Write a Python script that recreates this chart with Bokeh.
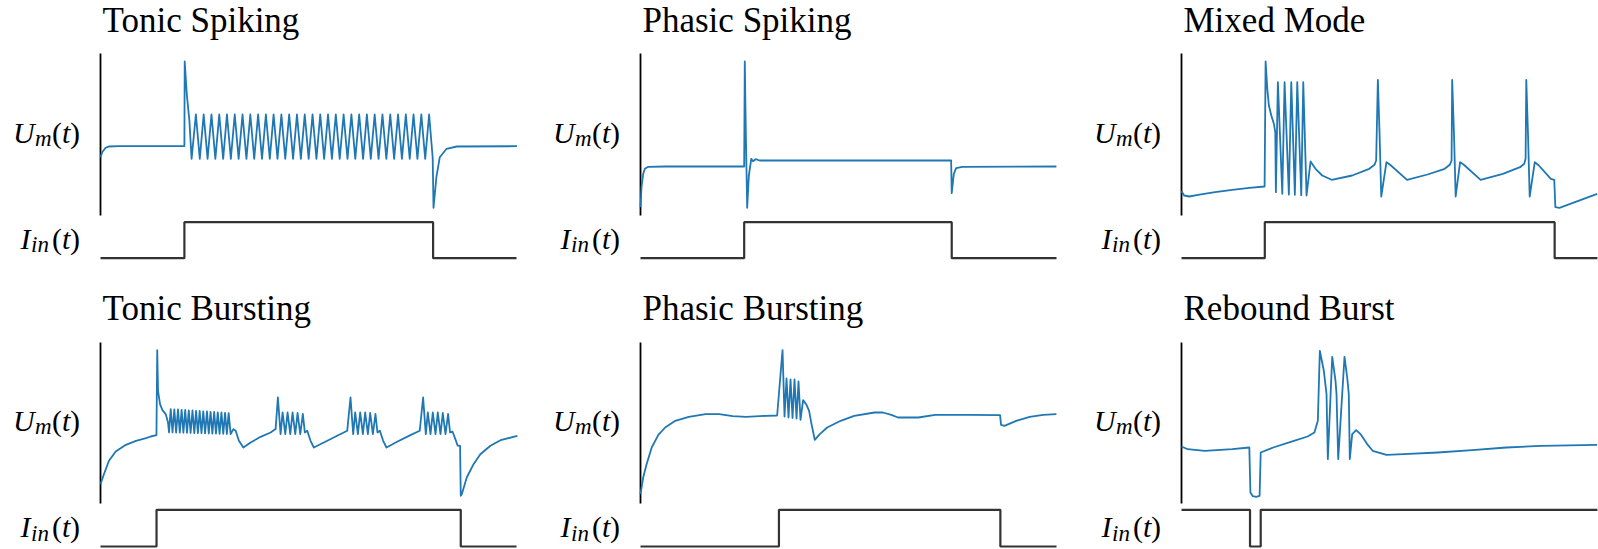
from bokeh.plotting import figure
from bokeh.layouts import column, row
from bokeh.models import Range1d, Label
from bokeh.embed import file_html
from bokeh.resources import INLINE

# ---------------- data (time in ms, membrane potential in a.u., input current in a.u.) ----------------
T_END = 416.5

titles = ["Tonic Spiking", "Phasic Spiking", "Mixed Mode",
          "Tonic Bursting", "Phasic Bursting", "Rebound Burst"]

# Tonic Spiking
tonic_spiking_t = [0, 1.7, 5.1, 8.5, 18.6, 84.0, 84.3, 86.5, 89.0, 91.2,
                   95.5, 99.4, 103.3, 107.2, 111.1, 115.0, 118.9, 122.8, 126.6, 130.5,
                   134.4, 138.3, 142.2, 146.1, 150.0, 153.9, 157.8, 161.7, 165.6, 169.5,
                   173.3, 177.2, 181.1, 185.0, 188.9, 192.8, 196.7, 200.6, 204.5, 208.4,
                   212.3, 216.2, 220.0, 223.9, 227.8, 231.7, 235.6, 239.5, 243.4, 247.3,
                   251.2, 255.1, 259.0, 262.9, 266.7, 270.6, 274.5, 278.4, 282.3, 286.2,
                   290.1, 294.0, 297.9, 301.8, 305.7, 309.6, 313.4, 317.3, 321.2, 325.1,
                   329.0, 332.6, 333.4, 336.3, 339.7, 346.5, 356.6, 417.0]
tonic_spiking_v = [58.3, 63.3, 67.7, 69.0, 69.3, 69.5, 154.0, 120.0, 95.0, 56.7,
                   101, 56.7, 101, 56.7, 101, 56.7, 101, 56.7, 101, 56.7,
                   101, 56.7, 101, 56.7, 101, 56.7, 101, 56.7, 101, 56.7,
                   101, 56.7, 101, 56.7, 101, 56.7, 101, 56.7, 101, 56.7,
                   101, 56.7, 101, 56.7, 101, 56.7, 101, 56.7, 101, 56.7,
                   101, 56.7, 101, 56.7, 101, 56.7, 101, 56.7, 101, 56.7,
                   101, 56.7, 101, 56.7, 101, 56.7, 101, 56.7, 101, 56.7,
                   101, 57.5, 7.7, 38.3, 58.3, 66.7, 69.0, 69.3]
tonic_spiking_iin_t = [0, 84.0, 333.0, T_END]
tonic_spiking_iin = [0, 1, 0, 0]

# Phasic Spiking
phasic_spiking_t = [0, 1.0, 2.7, 4.4, 7.8, 24.7, 103.8, 104.4, 105.5, 106.8, 108.5,
                    110.9, 112.6, 115.3, 119.3, 311.0, 311.6, 313.7, 316.0, 322.1, 416.4]
phasic_spiking_v = [8.3, 28.3, 41.7, 46.7, 48.7, 49.0, 49.0, 154.0, 80.0, 7.7, 40.0,
                    56.7, 54.3, 56.3, 55.0, 55.0, 22.3, 41.7, 47.3, 48.7, 49.0]
phasic_spiking_iin_t = [0, 103.8, 311.6, T_END]
phasic_spiking_iin = [0, 1, 0, 0]

# Mixed Mode
mixed_mode_t = [0, 2.7, 7.9, 16.5, 33.6, 50.8, 67.9, 83.2, 84.2, 85.9,
                87.5, 89.9, 92.5, 93.9, 94.5, 96.5, 100.9, 103.2, 107.5, 109.9,
                113.5, 115.9, 119.9, 121.9, 125.2, 129.2, 134.2, 140.9, 150.3, 170.9,
                188.0, 193.2, 194.9, 196.6, 198.3, 200.0, 205.2, 208.6, 225.8, 246.3,
                263.5, 268.6, 270.4, 271.0, 272.8, 274.5, 278.9, 282.4, 299.5, 321.8,
                339.0, 343.1, 344.5, 345.2, 346.9, 348.6, 353.7, 357.8, 369.8, 373.2,
                374.3, 378.4, 393.9, 416.2]
mixed_mode_v = [24.3, 20.0, 19.0, 20.7, 23.3, 25.7, 27.7, 29.0, 154.0, 126.7,
                110.0, 100.0, 91.7, 83.3, 23.3, 133.3, 21.7, 133.3, 21.0, 133.3,
                20.7, 133.3, 20.3, 133.3, 20.0, 54.0, 46.7, 40.0, 35.7, 40.0,
                46.7, 50.7, 55.0, 135.7, 81.7, 19.0, 53.3, 51.0, 35.7, 41.0,
                46.7, 50.7, 55.0, 135.7, 81.7, 19.0, 53.3, 51.0, 35.7, 41.7,
                48.3, 51.7, 56.7, 135.7, 81.7, 19.0, 53.3, 50.0, 36.7, 35.7,
                8.3, 7.7, 13.3, 21.7]
mixed_mode_iin_t = [0, 83.4, 373.6, T_END]
mixed_mode_iin = [0, 1, 0, 0]

# Tonic Bursting
tonic_bursting_t = [0, 3.4, 8.5, 15.2, 25.4, 35.5, 45.6, 50.3, 56.0, 56.8, 57.6, 59.6, 62.0, 65.3, 67.6, 68.6,
                    70.3, 72.1, 73.9, 75.7, 77.6, 79.4, 81.2, 83.0, 84.8, 86.6, 88.4, 90.2, 92.1, 93.9,
                    95.7, 97.5, 99.3, 101.1, 102.9, 104.7, 106.6, 108.4, 110.2, 112.0, 113.8, 115.6,
                    117.4, 119.2, 121.1, 122.9, 124.7, 126.5, 128.3, 130.3,
                    133.0, 135.3, 138.6, 143.0, 150.3, 160.3, 170.3, 175.3, 177.6, 180.3, 182.3, 185.0,
                    187.3, 190.0, 192.3, 195.0, 197.3, 200.0, 202.6, 204.6, 207.0, 210.3, 213.6, 223.6,
                    237.0, 247.0,
                    250.3, 253.0, 255.0, 257.7, 260.0, 262.7, 265.0, 267.7, 270.0, 272.7, 275.3, 277.3,
                    279.7, 283.0, 286.3, 297.0, 310.3, 319.6,
                    323.0, 325.7, 327.7, 330.4, 332.7, 335.4, 337.7, 340.4, 342.7, 345.4, 348.0, 350.0,
                    352.4, 355.3, 357.5, 360.0, 360.7, 361.7, 366.7, 373.5, 380.3, 390.4, 400.5, 417.4]
tonic_bursting_v = [19.3, 29.3, 42.7, 52.0, 58.7, 62.7, 65.3, 67.0, 68.3, 153.3, 112.7, 99.4, 93.4, 89.4, 81.0, 71.0,
                    94.4, 71.0, 94.2, 70.9, 94.0, 70.8, 93.7, 70.7, 93.5, 70.6, 93.2, 70.5, 93.0, 70.4,
                    92.7, 70.3, 92.5, 70.2, 92.2, 70.1, 92.0, 70.0, 91.7, 69.9, 91.5, 69.8,
                    91.2, 69.7, 91.0, 69.6, 90.7, 69.5, 90.4, 69.4,
                    74.4, 72.7, 62.7, 56.0, 61.0, 66.7, 71.0, 74.4, 106.0, 69.4, 91.0, 69.4,
                    91.0, 69.4, 91.0, 69.4, 90.5, 69.4, 89.5, 71.0, 72.7, 62.7, 56.0, 61.0,
                    67.7, 72.7,
                    106.0, 69.4, 91.0, 69.4, 91.0, 69.4, 91.0, 69.4, 90.5, 69.4, 89.5, 71.0,
                    72.7, 62.7, 56.0, 61.7, 68.4, 72.7,
                    106.0, 69.4, 91.0, 69.4, 91.0, 69.4, 91.0, 69.4, 90.5, 69.4, 89.5, 71.0,
                    72.0, 64.4, 58.0, 57.7, 7.7, 9.3, 26.0, 39.3, 49.3, 57.7, 63.3, 67.7]
tonic_bursting_iin_t = [0, 56.1, 360.7, T_END]
tonic_bursting_iin = [0, 1, 0, 0]

# Phasic Bursting
phasic_bursting_t = [0, 2.7, 6.1, 11.2, 17.9, 24.7, 34.8, 48.3, 65.2, 78.8, 92.3, 105.8, 126.1, 136.8,
                     142.2, 144.2, 146.2, 148.2, 150.2, 152.2, 154.2, 156.2, 158.2, 160.2, 162.8, 166.2,
                     168.8, 171.2, 174.5, 179.5, 186.9, 200.4, 214.0, 234.2, 242.7, 251.1, 257.9, 278.2,
                     295.1, 328.9, 360.0, 361.0, 364.4, 376.2, 389.7, 403.2, 416.4]
phasic_bursting_v = [9.3, 26.0, 39.3, 56.0, 68.7, 76.0, 82.7, 86.7, 89.3, 89.3, 87.3, 86.7, 87.7, 88.0,
                     153.4, 87.0, 125.0, 86.0, 124.0, 85.5, 124.0, 85.0, 122.0, 83.7, 103.4, 98.7,
                     92.7, 79.4, 63.7, 69.4, 76.0, 82.7, 87.7, 91.0, 91.0, 88.7, 86.0, 86.0,
                     88.7, 88.7, 88.3, 78.7, 77.7, 82.7, 86.7, 88.7, 89.3]
phasic_bursting_iin_t = [0, 138.6, 360.3, T_END]
phasic_bursting_iin = [0, 1, 0, 0]

# Rebound Burst
rebound_burst_t = [0, 6.2, 23.3, 50.8, 67.9, 69.0, 71.4, 74.8, 78.2, 79.3, 91.9, 112.5, 126.3,
                   133.1, 136.5, 138.5, 142.5, 145.2, 146.5, 150.9, 154.2, 155.2, 156.9, 163.2,
                   165.9, 167.5, 168.5, 170.9, 174.9, 179.2, 185.9, 191.4, 205.2, 222.3, 256.6,
                   291.0, 325.3, 359.6, 416.2]
rebound_burst_v = [57.0, 54.3, 52.7, 54.3, 56.0, 11.0, 7.3, 6.7, 7.7, 51.0, 56.0, 62.7, 67.0,
                   71.0, 82.7, 152.7, 132.7, 109.4, 44.4, 146.7, 122.7, 109.4, 44.4, 146.7,
                   126.0, 109.4, 44.4, 69.4, 73.4, 69.4, 59.4, 52.7, 48.7, 49.3, 51.0,
                   53.3, 56.0, 57.7, 58.7]
rebound_burst_iin_t = [0, 68.6, 79.3, T_END]
rebound_burst_iin = [0, -1, 0, 0]

traces = [(tonic_spiking_t, tonic_spiking_v, tonic_spiking_iin_t, tonic_spiking_iin),
          (phasic_spiking_t, phasic_spiking_v, phasic_spiking_iin_t, phasic_spiking_iin),
          (mixed_mode_t, mixed_mode_v, mixed_mode_iin_t, mixed_mode_iin),
          (tonic_bursting_t, tonic_bursting_v, tonic_bursting_iin_t, tonic_bursting_iin),
          (phasic_bursting_t, phasic_bursting_v, phasic_bursting_iin_t, phasic_bursting_iin),
          (rebound_burst_t, rebound_burst_v, rebound_burst_iin_t, rebound_burst_iin)]

# ---------------- layout / style ----------------
FONT = "Liberation Serif"
TRACE_COLOR = "#1f77b4"
STEP_COLOR = "#333333"
FRAME_W = 416
BASELINE_SHIFT = 0.3375   # label anchor is the text-box centre: lift by (ascent - descent)/2
COLS = [(100, 24), (100, 24), (101, 1)]          # (px left of axis, px right of data) per column
# Um rows: (px above data, data height px, px below, v max, title baseline px above, label baseline v)
UM_ROWS = [(53, 162, 4, 162.0, 21, 73.3), (78, 161, 3, 161.0, 22, 72.7)]
# Iin rows: (height, px above level 1, px per unit step, label baseline px above level 0)
IIN_ROWS = [(45, 2.7, 36.0, 10.0), (43, 3.3, 36.7, 9.5)]

U_PIECES = [("U", -87.5, 0.0, 30, "italic"), ("m", -65.5, -3.8, 23, "italic"),
            ("(", -48.5, 0.0, 30, "normal"), ("t", -38.5, 0.0, 30, "italic"),
            (")", -30.5, 0.0, 30, "normal")]
I_PIECES = [("I", -80.0, 0.0, 30, "italic"), ("in", -69.5, -3.8, 23, "italic"),
            ("(", -48.5, 0.0, 30, "normal"), ("t", -38.5, 0.0, 30, "italic"),
            (")", -30.5, 0.0, 30, "normal")]


def base_fig(width, height, xr, yr):
    p = figure(width=width, height=height, output_backend="svg", toolbar_location=None, tools="",
               x_range=xr, y_range=yr, x_axis_location=None, y_axis_location=None,
               min_border_left=0, min_border_right=0, min_border_top=0, min_border_bottom=0)
    p.grid.visible = False
    p.outline_line_color = None
    p.background_fill_color = "white"
    p.border_fill_color = "white"
    return p


def add_text(p, txt, x, y, size, style, ypp):
    p.add_layout(Label(x=x, y=y + BASELINE_SHIFT * size * ypp, text=txt, text_font=FONT,
                       text_font_size=f"{size}px", text_font_style=style,
                       text_color="black", text_align="left", text_baseline="alphabetic"))


def add_pieces(p, pieces, y0, xpp, ypp):
    for txt, dx, dy, size, style in pieces:
        add_text(p, txt, dx * xpp, y0 + dy * ypp, size, style, ypp)


um_rows, iin_rows = [], []
for r in range(2):
    bt, fh, bb, vmax, toff, lab_v = UM_ROWS[r]
    ih, top_px, step_px, lab_px = IIN_ROWS[r]
    ur, irw = [], []
    for c in range(3):
        k = r * 3 + c
        t, v, it, iv = traces[k]
        bl, br = COLS[c]
        xpp = T_END / FRAME_W
        xr = Range1d(-bl * xpp, T_END + br * xpp)
        width = bl + FRAME_W + br

        # membrane potential panel
        ypp = vmax / fh
        p = base_fig(width, bt + fh + bb, xr, Range1d(-bb * ypp, vmax + bt * ypp))
        p.segment(x0=[0], y0=[0], x1=[0], y1=[vmax], line_color="black", line_width=1.8)
        p.line(t, v, line_color=TRACE_COLOR, line_width=1.8, line_join="round")
        add_text(p, titles[k], 2 * xpp, vmax + toff * ypp, 35, "normal", ypp)
        add_pieces(p, U_PIECES, lab_v, xpp, ypp)
        ur.append(p)

        # input current panel
        lo_lvl, hi_lvl = min(iv), max(iv)
        upp = (hi_lvl - lo_lvl) / step_px
        bot_px = ih - top_px - step_px
        yr = Range1d(lo_lvl - bot_px * upp, hi_lvl + top_px * upp)
        q = base_fig(width, ih, xr, yr)
        q.step(it, iv, mode="after", line_color=STEP_COLOR, line_width=2.2)
        add_pieces(q, I_PIECES, lo_lvl + lab_px * upp, xpp, upp)
        irw.append(q)
    um_rows.append(row(*ur))
    iin_rows.append(row(*irw))

layout = column(um_rows[0], iin_rows[0], um_rows[1], iin_rows[1])

open("out.html", "w").write(file_html(layout, INLINE, "Neuron firing patterns"))
